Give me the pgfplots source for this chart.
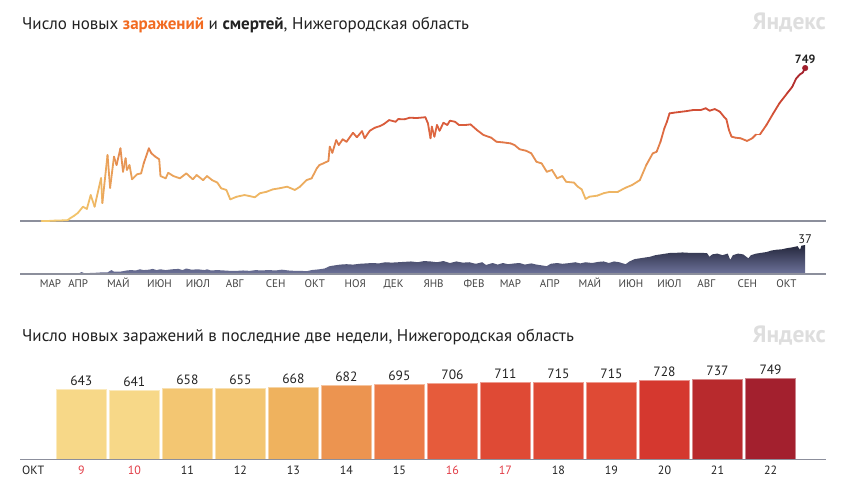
\documentclass[border=0pt]{standalone}
\usepackage{pgfplots}
\pgfplotsset{compat=1.18}
\usepackage{fontspec}
\setmainfont{PT Sans}
\definecolor{txt}{RGB}{34,34,34}
\definecolor{zar}{RGB}{242,107,33}
\definecolor{wm}{RGB}{222,222,222}
\definecolor{basegray}{RGB}{140,143,156}
\definecolor{dtop}{RGB}{36,39,60}
\definecolor{dbot}{RGB}{110,115,155}
\definecolor{dotred}{RGB}{160,30,44}
\definecolor{wk}{RGB}{226,60,70}
\definecolor{c643}{RGB}{247,216,136}
\definecolor{c658}{RGB}{243,198,114}
\definecolor{c668}{RGB}{239,178,94}
\definecolor{c682}{RGB}{236,148,80}
\definecolor{c695}{RGB}{235,123,71}
\definecolor{c706}{RGB}{230,91,59}
\definecolor{c711}{RGB}{223,74,53}
\definecolor{c728}{RGB}{213,56,47}
\definecolor{c737}{RGB}{184,42,45}
\definecolor{c749}{RGB}{163,32,46}
\pgfplotsset{
  colormap={cov}{rgb255=(243,200,110) rgb255=(238,180,98) rgb255=(230,145,82) rgb255=(221,98,62) rgb255=(202,66,48) rgb255=(160,30,44)},
  b/.style={ybar, bar width=50.5pt, bar shift=0pt, fill=#1, draw=#1!55!white, line width=0.8pt,
    nodes near coords, every node near coord/.append style={font=\fontsize{13.5}{15}\selectfont, text=txt, yshift=0pt}},
}
\begin{document}
\begin{tikzpicture}
\fill[white] (0,0) rectangle (844pt,480pt);
% titles
\node[anchor=base west, inner sep=0pt, font=\fontsize{17}{20}\selectfont, text=txt] at (22pt,450.5pt)
  {Число новых \textcolor{zar}{\textbf{заражений}} и \textbf{смертей}, Нижегородская область};
\node[anchor=base east, inner sep=0pt, font=\fontsize{23.5}{26}\selectfont\bfseries, text=wm] at (826pt,450pt) {Яндекс};
\node[anchor=base west, inner sep=0pt, font=\fontsize{17}{20}\selectfont, text=txt] at (22pt,138.5pt)
  {Число новых заражений в последние две недели, Нижегородская область};
\node[anchor=base east, inner sep=0pt, font=\fontsize{23.5}{26}\selectfont\bfseries, text=wm] at (826pt,138pt) {Яндекс};

% ---- infections line
\begin{axis}[at={(20pt,259pt)}, anchor=south west, scale only axis, width=806pt, height=163.4pt,
  xmin=-7.74, xmax=616.1, ymin=0, ymax=800, axis lines=none, clip=false,
  colormap name=cov, point meta min=0, point meta max=750,
  /pgf/number format/assume math mode=true]
\draw[color=basegray, line width=1.3pt] (rel axis cs:0,0) -- (rel axis cs:1,0);
\addplot[mesh, line width=1.8pt, line cap=round, line join=round, point meta=y] coordinates {
(9,1)(15,1)(20,2)(25,3)(29,4)(31,13)(34,25)(37,39)(41,70)(44,59)(47,127)(50,70)(55,210)(56,88)
(60,323)(62,162)(65,315)(67,274)(70,356)(72,241)(74,307)(75,250)(77,274)(79,204)(83,229)(86,233)
(88,282)(92,356)(94,331)(97,315)(100,302)(101,220)(105,209)(107,236)(111,220)(116,209)(121,233)
(126,204)(129,225)(134,200)(137,220)(141,200)(145,188)(148,160)(152,152)(155,106)(160,119)(166,127)
(170,122)(174,116)(178,136)(183,143)(188,155)(193,160)(199,168)(205,152)(209,168)(214,200)(218,209)
(222,258)(224,274)(227,282)(231,294)(232,364)(234,334)(237,396)(239,372)(242,400)(245,388)(250,432)
(253,410)(257,440)(259,405)(263,442)(267,457)(271,465)(274,475)(278,494)(283,486)(285,499)(290,498)
(294,506)(299,504)(306,508)(308,478)(310,405)(311,462)(313,413)(315,470)(317,442)(320,481)(323,470)
(325,491)(329,486)(332,470)(337,470)(341,473)(346,445)(351,421)(357,408)(361,388)(366,385)(372,380)
(375,372)(379,351)(384,344)(388,331)(392,290)(396,282)(400,241)(404,250)(408,209)(412,220)(415,192)
(421,188)(424,168)(427,155)(430,108)(433,119)(439,124)(444,136)(449,143)(455,143)(461,163)(466,176)
(472,200)(477,274)(482,331)(485,339)(488,388)(491,454)(493,486)(495,527)(498,530)(503,534)(508,538)
(513,543)(519,543)(523,552)(526,540)(530,548)(534,535)(537,511)(539,498)(541,445)(543,413)(546,408)
(550,405)(555,392)(559,405)(562,424)(565,424)(570,470)(575,524)(580,576)(586,625)(590,657)(593,698)
(596,718)(598,726)(600,749)
};
\addplot[only marks, mark=*, mark size=2.8pt, color=dotred,
  nodes near coords, every node near coord/.append style={font=\fontsize{12}{14}\selectfont\bfseries, text=txt, yshift=1pt}]
  coordinates {(600,749)};
\end{axis}

% ---- deaths area
\begin{axis}[at={(20pt,206pt)}, anchor=south west, scale only axis, width=806pt, height=40pt,
  xmin=-7.74, xmax=616.1, ymin=0, ymax=51.03, clip=false,
  axis x line*=bottom, axis y line*=left, axis line style={draw=none}, ytick=\empty,
  major tick length=0pt,
  xtick={9,31,61,92,122,153,184,214,245,275,306,337,365,396,426,457,487,518,549,579},
  xticklabels={МАР,АПР,МАЙ,ИЮН,ИЮЛ,АВГ,СЕН,ОКТ,НОЯ,ДЕК,ЯНВ,ФЕВ,МАР,АПР,МАЙ,ИЮН,ИЮЛ,АВГ,СЕН,ОКТ},
  xticklabel style={font=\fontsize{11}{12}\selectfont, text=txt!85, anchor=base west, xshift=-2pt, yshift=-13.5pt, inner sep=0pt}]
\addplot[draw=none, top color=dtop, bottom color=dbot] coordinates {
(9,0.5)(20,0.5)(30,0.5)(38,1)(40,2.5)(42,1)(50,1.5)(55,2)(60,2)(63,5)(65,3)(70,3)(75,4.5)(78,5)(82,4.5)
(85,6)(88,5)(92,5.5)(95,6.5)(98,5)(101,6)(105,5)(110,6)(115,6.5)(118,5)(121,7)(125,5.5)(130,6)(135,5)
(137,6)(140,4.5)(145,5)(150,4.5)(155,4)(160,4)(165,4.5)(170,4)(175,5)(178,4.5)(185,5)(190,4.5)(195,5.5)
(200,4.5)(205,4)(210,4)(214,3.5)(218,5)(224,6)(228,7)(232,10)(236,11)(240,12)(245,12.5)(250,12)(255,13)
(260,13.5)(265,14)(270,13.5)(275,15)(280,14.5)(285,15)(290,15.5)(295,16)(300,15)(305,16.5)(310,16)
(315,15)(320,16.5)(325,14)(330,16)(335,14.5)(340,15)(345,13)(350,15)(353,11.5)(358,14)(362,12)(366,14)
(370,12.5)(375,13.5)(379,14)(383,12)(388,13.5)(392,12)(396,11)(400,10)(403,13)(408,14)(412,13)(418,14)
(422,15)(426,13.5)(430,15)(435,14)(440,15.5)(444,16)(448,14)(452,16)(456,15)(461,12.5)(464,16)(468,19)
(472,20)(476,21)(480,22)(484,24)(488,25)(492,26)(496,27)(500,27)(505,27.5)(510,27)(515,27)(520,27)
(524,26.5)(526,22)(528,25)(532,26)(536,24)(540,26)(542,18)(544,24)(548,26)(552,25)(556,20)(558,24)
(562,26)(566,27)(570,28)(574,30)(578,31)(582,31.5)(586,33)(590,34)(594,35.5)(596,31)(597,36)(600,37)
} \closedcycle;
\draw[color=basegray, line width=1.3pt] (rel axis cs:0,0) -- (rel axis cs:1,0);
\node[anchor=south, inner sep=1pt, font=\fontsize{12.5}{14}\selectfont, text=txt] at (axis cs:600,37) {37};
\end{axis}

% ---- bars
\begin{axis}[at={(20pt,20.7pt)}, anchor=south west, scale only axis, width=806pt, height=100pt,
  xmin=-1.156, xmax=14.046, ymin=0, ymax=925, clip=false,
  axis x line*=bottom, axis y line*=left, axis line style={draw=none}, ytick=\empty,
  major tick length=0pt,
  /pgf/number format/assume math mode=true,
  xtick={0,...,13},
  xticklabels={{\color{wk}9},{\color{wk}10},11,12,13,14,15,{\color{wk}16},{\color{wk}17},18,19,20,21,22},
  xticklabel style={font=\fontsize{12}{13}\selectfont, text=txt, anchor=base, inner sep=0pt, yshift=-15.5pt}]
\addplot[b=c643] coordinates {(0,643)};
\addplot[b=c643] coordinates {(1,641)};
\addplot[b=c658] coordinates {(2,658)};
\addplot[b=c658] coordinates {(3,655)};
\addplot[b=c668] coordinates {(4,668)};
\addplot[b=c682] coordinates {(5,682)};
\addplot[b=c695] coordinates {(6,695)};
\addplot[b=c706] coordinates {(7,706)};
\addplot[b=c711] coordinates {(8,711)};
\addplot[b=c711] coordinates {(9,715)};
\addplot[b=c711] coordinates {(10,715)};
\addplot[b=c728] coordinates {(11,728)};
\addplot[b=c737] coordinates {(12,737)};
\addplot[b=c749] coordinates {(13,749)};
\draw[color=basegray, line width=1.3pt] (rel axis cs:0,0) -- (rel axis cs:1,0);
\end{axis}
\node[anchor=base west, inner sep=0pt, font=\fontsize{12}{13}\selectfont, text=txt] at (22pt,5.2pt) {ОКТ};
\end{tikzpicture}
\end{document}
